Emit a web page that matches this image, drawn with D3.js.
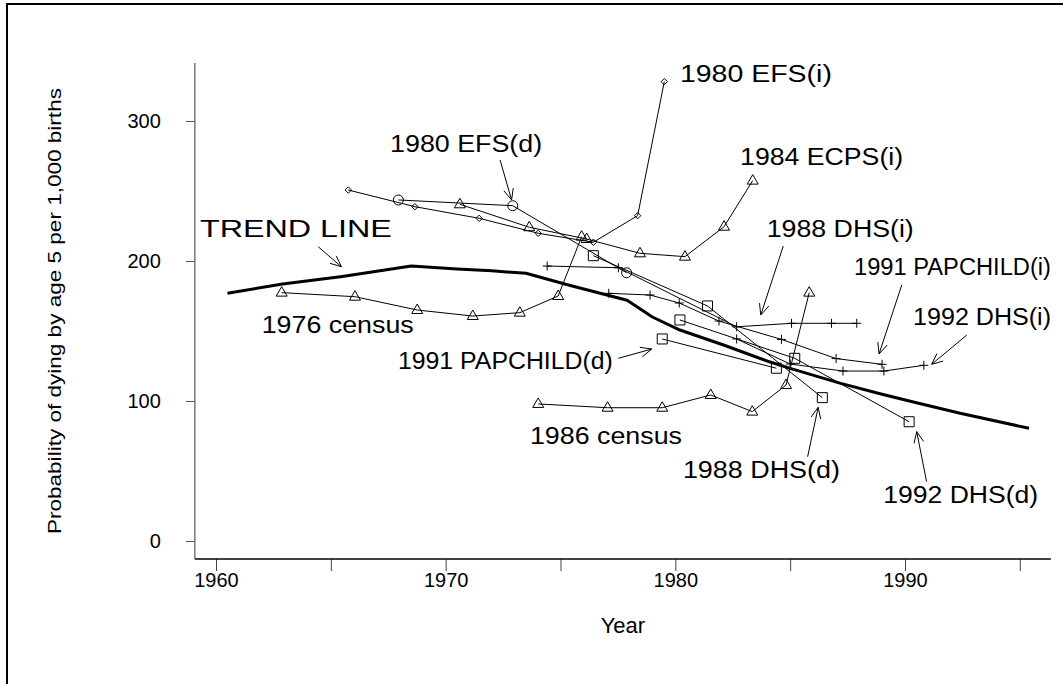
<!DOCTYPE html>
<html><head><meta charset="utf-8">
<script src="https://cdn.jsdelivr.net/npm/d3@7"></script>
<style>body{margin:0;background:#fff} svg{display:block} text{font-family:Arial,"Liberation Sans",sans-serif;fill:#000}</style>
</head><body><svg id="c" width="1063" height="684"></svg>
<script>
// ---------- data ----------
const xTickYears = [1960, 1965, 1970, 1975, 1980, 1985, 1990, 1995];
const xTickLabels = ["1960", "", "1970", "", "1980", "", "1990", ""];
const yTickValues = [0, 100, 200, 300];
const yTickLabels = ["0", "100", "200", "300"];

const trendLine = [[1960.5,177],[1962.9,183.5],[1965.5,189],[1968.5,196.4],[1970.5,194.3],[1972,193],[1973.5,191.2],[1975.3,183],[1977.9,172],[1979,160],[1980.2,150.7],[1982.1,140],[1984.1,128],[1985,123.3],[1987.2,112.6],[1989,104.8],[1990.5,98.8],[1992.4,91.2],[1995.4,80.5]];
const census1976 = [[1962.86,177.4],[1966.05,174.5],[1968.76,165],[1971.18,160.7],[1973.23,163.1],[1974.9,175],[1975.92,217.4]];
const ecps1984i = [[1970.62,240.5],[1973.64,224.1],[1976.14,215.7],[1978.46,205.5],[1980.42,203.1],[1982.12,224.5],[1983.37,257.4]];
const efs1980i = [[1965.76,250.7],[1968.66,238.8],[1971.46,230.5],[1974.03,219.8],[1976.43,213.4],[1978.36,232.4],[1979.52,328.1]];
const efs1980d = [[1967.94,243.6],[1972.92,239.5],[1977.88,191.6]];
const dhs1988d = [[1976.43,203.8],[1981.4,167.9],[1986.4,102.4]];
const dhs1992d = [[1980.2,157.9],[1985.2,130.5],[1990.18,85.2]];
const papchild1991d = [[1979.43,144.3],[1984.4,123.4]];
const dhs1988i = [[1974.42,196.4],[1977.52,195.2],[1982.67,153],[1985.06,155.5],[1986.8,155.5],[1987.9,155.5]];
const papchild1991i = [[1977.1,176.9],[1978.9,175.7],[1980.17,170],[1981.9,157.1],[1984.62,144],[1987.0,130.3],[1989.0,126.2]];
const dhs1992i = [[1982.67,144.3],[1985.0,126.4],[1987.3,121.4],[1989.08,121.4],[1990.82,125.5]];
const census1986 = [[1974.03,97.9],[1977.05,95.2],[1979.43,95.2],[1981.54,104.3],[1983.35,92.4],[1984.82,111.4],[1985.83,177.4]];

const seriesList = [
  {name:"1976 census", pts:census1976, marker:"triangle"},
  {name:"1984 ECPS(i)", pts:ecps1984i, marker:"triangle"},
  {name:"1980 EFS(i)", pts:efs1980i, marker:"diamond"},
  {name:"1980 EFS(d)", pts:efs1980d, marker:"circle"},
  {name:"1988 DHS(d)", pts:dhs1988d, marker:"square"},
  {name:"1992 DHS(d)", pts:dhs1992d, marker:"square"},
  {name:"1991 PAPCHILD(d)", pts:papchild1991d, marker:"square"},
  {name:"1988 DHS(i)", pts:dhs1988i, marker:"plus"},
  {name:"1991 PAPCHILD(i)", pts:papchild1991i, marker:"plus"},
  {name:"1992 DHS(i)", pts:dhs1992i, marker:"plus"},
  {name:"1986 census", pts:census1986, marker:"triangle"}
];

// annotation labels: text, start year, baseline value
const labelTexts = ["TREND LINE","1980 EFS(d)","1980 EFS(i)","1984 ECPS(i)","1988 DHS(i)","1991 PAPCHILD(i)","1992 DHS(i)","1976 census","1991 PAPCHILD(d)","1986 census","1988 DHS(d)","1992 DHS(d)"];
const labelYears = [1959.30,1967.58,1980.20,1982.82,1983.98,1987.78,1990.35,1961.99,1967.92,1973.67,1980.33,1989.05];
const labelValues = [217.1,277.9,327.9,268.6,217.1,190.0,154.3,148.4,122.6,69.3,44.8,27.4];
// arrows: from [year,value] to [year,value]
const arrowFrom = [[1964.45,210.2],[1972.37,272.1],[1984.70,210.7],[1989.86,182.9],[1992.69,147.1],[1977.52,130.5],[1985.76,60.2],[1990.94,42.4]];
const arrowTo   = [[1965.46,195.9],[1972.87,243.6],[1983.72,161.4],[1988.87,133.6],[1991.16,126.2],[1978.97,137.1],[1986.22,95.5],[1990.51,78.1]];

// ---------- chart ----------
const svg = d3.select("#c");
const x = d3.scaleLinear().domain([1960, 1990]).range([216, 905]);
const y = d3.scaleLinear().domain([0, 300]).range([541, 121]);
const xEnds = [1959.08, 1996.35];
const yEnds = [-12.9, 341.4];
const FONT = "Arial, Liberation Sans, sans-serif";

// outer frame
svg.append("rect").attr("x",7).attr("y",4).attr("width",1100).attr("height",700)
  .attr("fill","none").attr("stroke","#000").attr("stroke-width",2);

// x axis
const xAxisG = svg.append("g").attr("transform",`translate(0,${y(yEnds[0])})`)
  .call(d3.axisBottom(x).tickValues(xTickYears).tickFormat((d,i)=>xTickLabels[i]).tickSize(12).tickPadding(2));
xAxisG.select(".domain").remove();
xAxisG.selectAll(".tick line").attr("stroke","#444");
xAxisG.selectAll("text").attr("font-size",20).attr("font-family",FONT).attr("fill","#000");
svg.append("line").attr("x1",x(xEnds[0])).attr("x2",x(xEnds[1])).attr("y1",y(yEnds[0])).attr("y2",y(yEnds[0]))
  .attr("stroke","#000").attr("stroke-width",1.5);

// y axis
const yAxisG = svg.append("g").attr("transform",`translate(${x(xEnds[0])},0)`)
  .call(d3.axisLeft(y).tickValues(yTickValues).tickFormat((d,i)=>yTickLabels[i]).tickSize(9).tickPadding(25));
yAxisG.select(".domain").remove();
yAxisG.selectAll(".tick line").attr("stroke","#555");
yAxisG.selectAll("text").attr("font-size",20).attr("font-family",FONT).attr("fill","#000");
svg.append("line").attr("x1",x(xEnds[0])).attr("x2",x(xEnds[0])).attr("y1",y(yEnds[0])).attr("y2",y(yEnds[1]))
  .attr("stroke","#555").attr("stroke-width",1.2);

// axis titles
const xMid = (x(xEnds[0]) + x(xEnds[1])) / 2;
const yMid = (y(yEnds[0]) + y(yEnds[1])) / 2;
svg.append("text").attr("x",xMid).attr("y",633).attr("text-anchor","middle")
  .attr("font-size",22).text("Year");
svg.append("text").attr("transform",`translate(61,${yMid}) rotate(-90)`)
  .attr("text-anchor","middle").attr("font-size",18)
  .attr("textLength",446).attr("lengthAdjust","spacingAndGlyphs")
  .text("Probability of dying by age 5 per 1,000 births");

// series lines
const line = d3.line().x(d=>x(d[0])).y(d=>y(d[1]));
const gSeries = svg.append("g");
seriesList.forEach(s=>{
  gSeries.append("path").datum(s.pts).attr("d",line).attr("fill","none").attr("stroke","#000").attr("stroke-width",1);
});
// markers
function markerPath(type){
  if(type==="triangle") return "M0,-6L5.5,3.5L-5.5,3.5Z";
  if(type==="square") return "M-5,-5H5V5H-5Z";
  if(type==="circle") return "M5,0A5,5 0 1,1 -5,0A5,5 0 1,1 5,0Z";
  if(type==="diamond") return "M0,-3.2L3.2,0L0,3.2L-3.2,0Z";
  if(type==="plus") return "M-4.5,0H4.5M0,-4.5V4.5";
}
seriesList.forEach(s=>{
  gSeries.selectAll(null).data(s.pts).enter().append("path")
    .attr("transform",d=>`translate(${x(d[0])},${y(d[1])})`)
    .attr("d",markerPath(s.marker)).attr("fill","none").attr("stroke","#000").attr("stroke-width",1);
});

// trend line (thick)
svg.append("path").datum(trendLine).attr("d",line).attr("fill","none").attr("stroke","#000")
  .attr("stroke-width",3).attr("stroke-linejoin","round");

// annotation labels
const labelWidths = [192,152,152,163,147,197,138,152,215,152,157,155];
const labelSizes = [24.5,23,23,23,23,23,23,23,23,23,23,23];
labelTexts.forEach((t,i)=>{
  svg.append("text").attr("x",x(labelYears[i])).attr("y",y(labelValues[i]))
    .attr("font-size",labelSizes[i]).attr("textLength",labelWidths[i]).attr("lengthAdjust","spacingAndGlyphs").text(t);
});
// arrows
arrowFrom.forEach((f,i)=>{
  const t = arrowTo[i];
  const x1=x(f[0]), y1=y(f[1]), x2=x(t[0]), y2=y(t[1]);
  const a = Math.atan2(y2-y1, x2-x1), L=12, w=0.42;
  const p1=[x2-L*Math.cos(a-w), y2-L*Math.sin(a-w)], p2=[x2-L*Math.cos(a+w), y2-L*Math.sin(a+w)];
  svg.append("path").attr("d",`M${x1},${y1}L${x2},${y2}M${p1[0]},${p1[1]}L${x2},${y2}L${p2[0]},${p2[1]}`)
    .attr("fill","none").attr("stroke","#000").attr("stroke-width",1);
});
</script></body></html>
